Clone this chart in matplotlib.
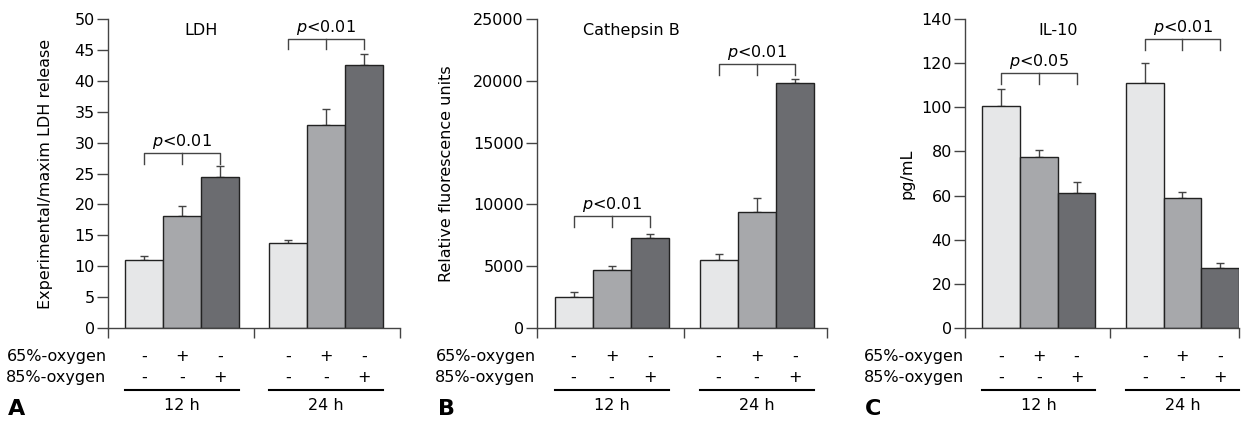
import numpy as np
import matplotlib
matplotlib.use("Agg")
import matplotlib.pyplot as plt

plt.rcParams['font.family'] = ['DejaVu Sans']
plt.rcParams['mathtext.fontset'] = 'custom'
plt.rcParams['mathtext.it'] = 'DejaVu Sans:italic'
plt.rcParams['mathtext.rm'] = 'DejaVu Sans'

# data (mean, upper error)
ldh_12 = [11.0, 18.1, 24.4]
ldh_12_err = [0.6, 1.6, 1.8]
ldh_24 = [13.8, 32.8, 42.5]
ldh_24_err = [0.4, 2.7, 1.8]

cat_12 = [2500, 4670, 7290]
cat_12_err = [380, 380, 350]
cat_24 = [5480, 9400, 19800]
cat_24_err = [540, 1100, 350]

il_12 = [100.6, 77.7, 61.1]
il_12_err = [7.6, 3.0, 5.1]
il_24 = [110.9, 58.8, 27.2]
il_24_err = [9.3, 2.6, 2.2]

oxy65 = ['-', '+', '-']
oxy85 = ['-', '-', '+']
groups = ['12 h', '24 h']

bar_colors = ['#e6e7e8', '#a7a8ab', '#6b6c70']
axis_col = '#444444'

W, H = 1254, 422
fig = plt.figure(figsize=(W / 100, H / 100), dpi=100)


def add_axes(left, right, top, bottom):
    return fig.add_axes([left / W, 1 - bottom / H, (right - left) / W, (bottom - top) / H])


def panel(ax, v12, e12, v24, e24, ymax, ystep, xmax, ylabel, title, pvals, brackets, letter, letter_x):
    x12 = np.array([0.96, 1.96, 2.96])
    x24 = np.array([4.77, 5.77, 6.77])
    for xs, vals, errs in [(x12, v12, e12), (x24, v24, e24)]:
        ax.bar(xs, vals, width=1.0, color=bar_colors, edgecolor='#222222', linewidth=1.0, zorder=2)
        ax.errorbar(xs, vals, yerr=[np.zeros(3), errs], fmt='none', ecolor='#444444',
                    elinewidth=1.0, capsize=3, capthick=1.0, zorder=1)

    ax.set_xlim(0, xmax)
    ax.set_ylim(0, ymax)
    ax.set_yticks(np.arange(0, ymax + ystep / 2, ystep))
    ax.set_xticks([0, 3.86, xmax])
    ax.set_xticklabels([])
    for s in ['top', 'right']:
        ax.spines[s].set_visible(False)
    for s in ['left', 'bottom']:
        ax.spines[s].set_color(axis_col)
        ax.spines[s].set_linewidth(1.0)
    ax.tick_params(axis='y', direction='out', length=8, width=1, color=axis_col, pad=1.5, labelsize=11.5)
    ax.tick_params(axis='x', direction='out', length=7, width=1, color=axis_col)
    ax.set_ylabel(ylabel, fontsize=11.5)

    ax.text(2.47, ymax * 0.963, title, ha='center', va='center', fontsize=11.5)

    # significance brackets
    drop = ymax * 0.034
    for xs, by, pv in zip([x12, x24], brackets, pvals):
        ax.plot([xs[0], xs[0], xs[2], xs[2]], [by - drop, by, by, by - drop], color='#444444', lw=1.0)
        ax.plot([xs[1], xs[1]], [by, by - drop], color='#444444', lw=1.0)
        ax.text(xs[1], by + ymax * 0.038, r'$p$<' + pv, ha='center', va='center', fontsize=11.5)

    # condition table under the axis
    tr = ax.get_xaxis_transform()
    ax.text(-0.005, -0.091, '65%-oxygen', transform=ax.transAxes, ha='right', va='center', fontsize=11.5)
    ax.text(-0.005, -0.159, '85%-oxygen', transform=ax.transAxes, ha='right', va='center', fontsize=11.5)
    for xs, g in zip([x12, x24], groups):
        for x, a, b in zip(xs, oxy65, oxy85):
            ax.text(x, -0.091, a, transform=tr, ha='center', va='center', fontsize=11.5, clip_on=False)
            ax.text(x, -0.159, b, transform=tr, ha='center', va='center', fontsize=11.5, clip_on=False)
        ax.plot([xs[0] - 0.5, xs[2] + 0.5], [-0.2, -0.2], transform=tr, color='black', lw=1.5, clip_on=False)
        ax.text(xs[1], -0.25, g, transform=tr, ha='center', va='center', fontsize=11.5, clip_on=False)

    fig.text(letter_x / W, 3 / H, letter, ha='left', va='bottom', fontsize=16, fontweight='bold')


axA = add_axes(108, 400, 19, 328)
panel(axA, ldh_12, ldh_12_err, ldh_24, ldh_24_err, 50, 5, 7.73,
      'Experimental/maxim LDH release', 'LDH', ['0.01', '0.01'], [28.3, 46.8], 'A', 8)

axB = add_axes(537, 827, 19, 328)
panel(axB, cat_12, cat_12_err, cat_24, cat_24_err, 25000, 5000, 7.62,
      'Relative fluorescence units', 'Cathepsin B', ['0.01', '0.01'], [9045, 21357], 'B', 438)

axC = add_axes(965, 1239, 19, 328)
panel(axC, il_12, il_12_err, il_24, il_24_err, 140, 20, 7.27,
      'pg/mL', 'IL-10', ['0.05', '0.01'], [115.4, 130.9], 'C', 865)

axA.yaxis.set_label_coords(-0.188, 0.5)
axB.yaxis.set_label_coords(-0.286, 0.5)
axC.yaxis.set_label_coords(-0.186, 0.5)

fig.savefig('out.png', dpi=100)
